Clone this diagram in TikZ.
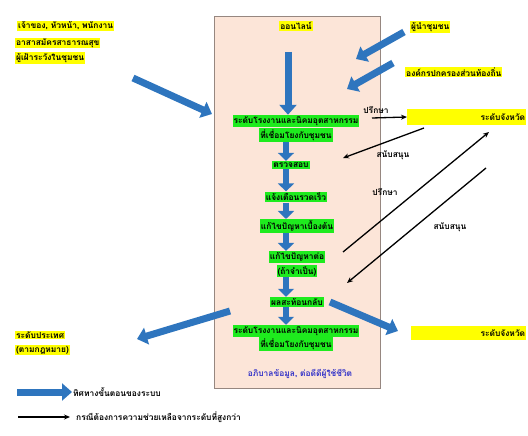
\documentclass[tikz,border=0pt]{standalone}
\usepackage{fontspec}
\newfontfamily\thaifont[Script=Thai]{Loma}
\usetikzlibrary{arrows.meta,positioning}

\definecolor{pinkbg}{RGB}{252,229,216}
\definecolor{boxline}{RGB}{150,135,128}
\definecolor{stepgreen}{RGB}{30,235,30}
\definecolor{hlyellow}{RGB}{255,255,0}
\definecolor{flowblue}{RGB}{46,117,190}
\definecolor{textblue}{RGB}{50,50,200}

\tikzset{
  thaitext/.style={font=\thaifont\bfseries\fontsize{8.4}{9}\selectfont, inner sep=1pt},
  stepbox/.style={thaitext, fill=stepgreen, inner ysep=1.5pt},
  hlbox/.style={thaitext, fill=hlyellow},
  flow/.style={flowblue, line width=7pt, -{Triangle[width=17pt,length=10pt]}},
  smallflow/.style={flowblue, line width=6pt, -{Triangle[width=16pt,length=8pt]}},
  help/.style={black, line width=1.3pt, -{Stealth[length=6pt,width=5pt]}},
}

\begin{document}
\begin{tikzpicture}[x=1pt,y=-1pt]
  \useasboundingbox (0,0) rectangle (528,436);
  \clip (0,0) rectangle (528,436);
  % online box
  \draw[boxline, fill=pinkbg] (214,16) rectangle (380,388);
  \node[hlbox] (online) at (296,26) {ออนไลน์};
  \coordinate (flowx) at (286,0);
  \coordinate (top) at (288,52);
  % steps
  \node[stepbox] (s1a) at (296,121) {ระดับโรงงานและนิคมอุตสาหกรรม};
  \node[stepbox] (s1b) at (296,135) {ที่เชื่อมโยงกับชุมชน};
  \node[stepbox] (s2) at (291,165) {ตรวจสอบ};
  \node[stepbox] (s3) at (296,197) {แจ้งเตือนรวดเร็ว};
  \node[stepbox] (s4) at (297,226) {แก้ไขปัญหาเบื้องต้น};
  \node[stepbox] (s5a) at (297,257) {แก้ไขปัญหาต่อ};
  \node[stepbox] (s5b) at (297,271) {(ถ้าจำเป็น)};
  \node[stepbox] (s6) at (297,302) {ผลสะท้อนกลับ};
  \node[stepbox] (s7a) at (296,331) {ระดับโรงงานและนิคมอุตสาหกรรม};
  \node[stepbox] (s7b) at (296,344) {ที่เชื่อมโยงกับชุมชน};
  \node[thaitext, textblue] (data) at (300,374) {อภิบาลข้อมูล, ต่อดีดีผู้ใช้ชีวิต};
  \draw[flow] (top) -- (s1a.north -| top);
  \draw[smallflow] (s1b.south -| flowx) -- (s2.north -| flowx);
  \draw[smallflow] (s2.south -| flowx) -- (s3.north -| flowx);
  \draw[smallflow] (s3.south -| flowx) -- (s4.north -| flowx);
  \draw[smallflow] (s4.south -| flowx) -- (s5a.north -| flowx);
  \draw[smallflow] (s5b.south -| flowx) -- (s6.north -| flowx);
  \draw[smallflow] (s6.south -| flowx) -- (s7a.north -| flowx);
  % people feeding in
  \node[hlbox, anchor=west] (own1) at (17,26) {เจ้าของ, หัวหน้า, พนักงาน};
  \node[hlbox, anchor=west] (own2) at (15,43) {อาสาสมัครสาธารณสุข};
  \node[hlbox, anchor=west] (own3) at (15,58) {ผู้เฝ้าระวังในชุมชน};
  \node[hlbox, anchor=west] (lead) at (410,27) {ผู้นำชุมชน};
  \node[hlbox, anchor=west] (local) at (405,72) {องค์กรปกครองส่วนท้องถิ่น};
  \coordinate (ownin) at (212,114);
  \coordinate (leadin) at (356,59);
  \coordinate (localin) at (347,89);
  \draw[flow] (133,78) -- (ownin);
  \draw[flow] (lead.west) ++(-6,5) -- (leadin);
  \draw[flow] (local.west) ++(-12,-9) -- (localin);
  % province level
  \node[hlbox, anchor=west, text width=117, align=right, minimum height=16] (prov1) at (407,117) {ระดับจังหวัด};
  \node[hlbox, anchor=west, text width=113, align=right, minimum height=14] (prov2) at (411,333) {ระดับจังหวัด};
  \node[hlbox, anchor=west] (nat1) at (15,335) {ระดับประเทศ};
  \node[hlbox, anchor=west] (nat2) at (15,350) {(ตามกฎหมาย)};
  \draw[flow] (330,302) -- (398,331);
  \draw[flow] (230,311) -- (137,339);
  % help from higher levels
  \coordinate (c1) at (372,118);
  \coordinate (c2a) at (424,128);
  \coordinate (c2b) at (343,158);
  \coordinate (c3a) at (343,252);
  \coordinate (c3b) at (489,132);
  \coordinate (c4a) at (486,168);
  \coordinate (c4b) at (347,283);
  \draw[help] (c1) -- (prov1.west);
  \draw[help] (c2a) -- (c2b);
  \draw[help] (c3a) -- (c3b);
  \draw[help] (c4a) -- (c4b);
  \node[thaitext] (ask1) at (376,110) {ปรึกษา};
  \node[thaitext] (sup1) at (393,155) {สนับสนุน};
  \node[thaitext] (ask2) at (385,192) {ปรึกษา};
  \node[thaitext] (sup2) at (450,227) {สนับสนุน};
  % legend
  \coordinate (lega) at (17,392);
  \coordinate (legb) at (18,417);
  \node[thaitext, anchor=west] (legflow) at (72,392) {ทิศทางขั้นตอนของระบบ};
  \node[thaitext, anchor=west] (leghelp) at (75,417) {กรณีต้องการความช่วยเหลือจากระดับที่สูงกว่า};
  \draw[flow] (lega) -- (legflow.west);
  \draw[help] (legb) -- ([xshift=-5pt]leghelp.west);
\end{tikzpicture}
\end{document}
